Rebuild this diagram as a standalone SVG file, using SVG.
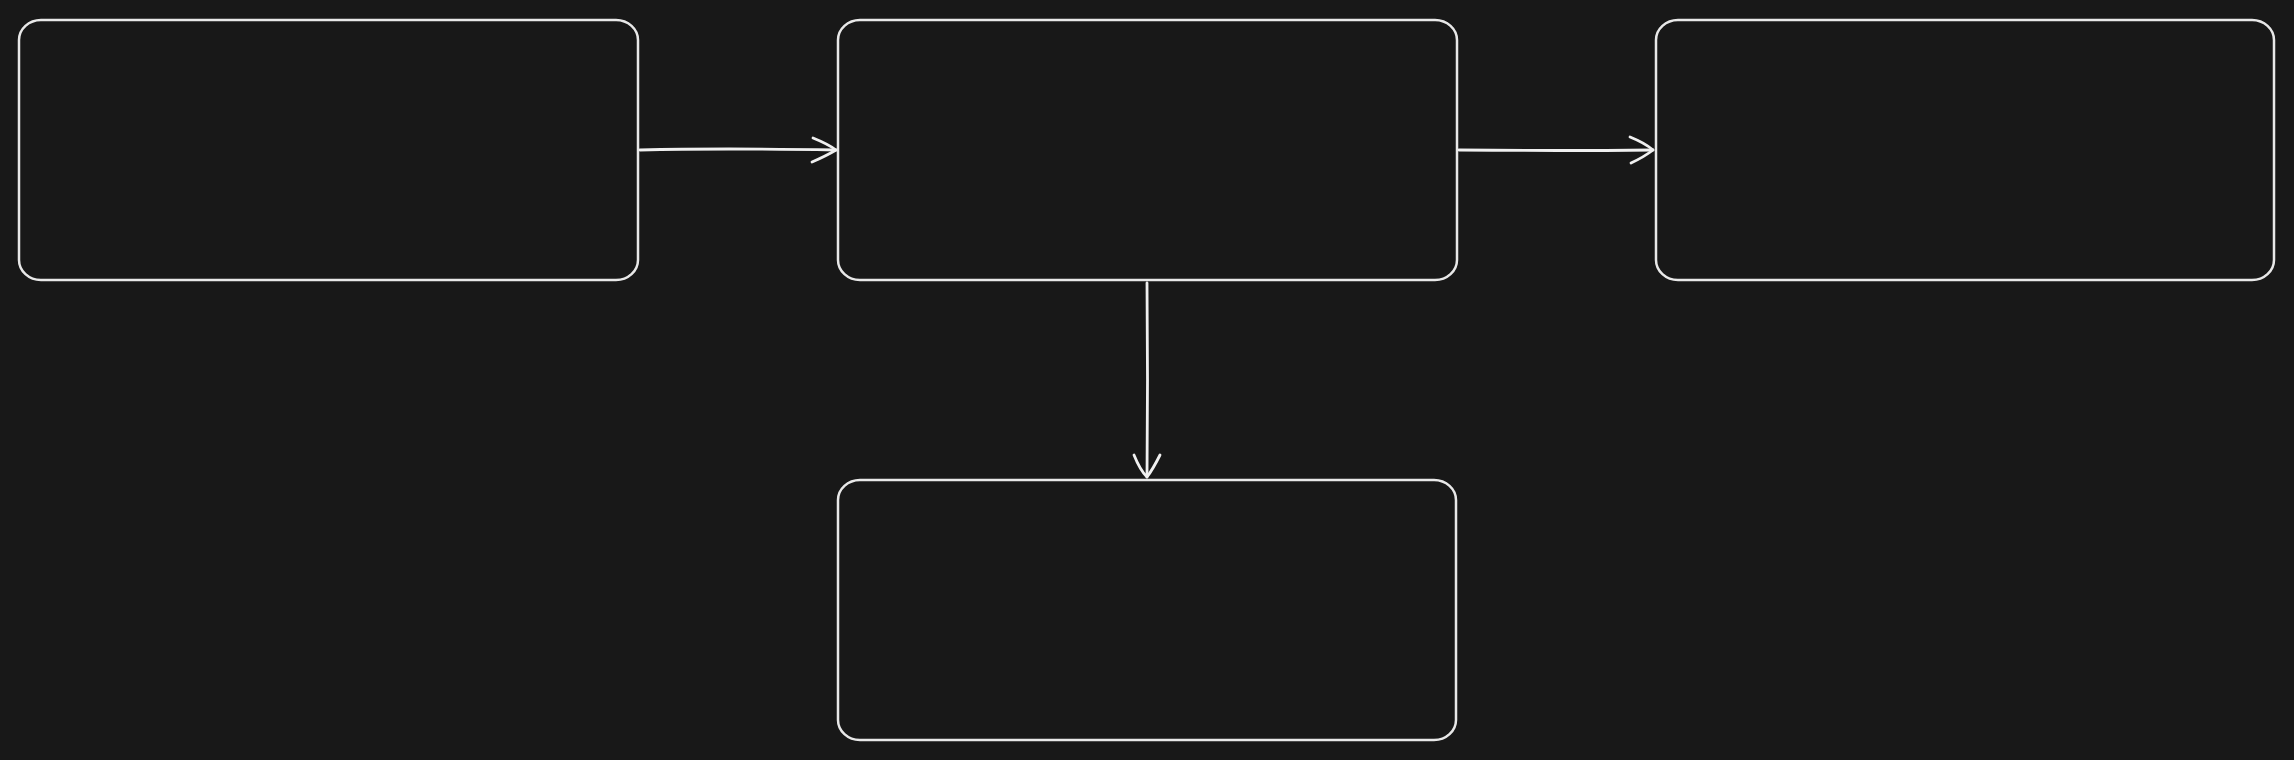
<svg xmlns="http://www.w3.org/2000/svg" width="2294" height="760" viewBox="0 0 2294 760">
<style>
.box{fill:none;stroke:#e8e8e8;stroke-width:2.5}
.conn{fill:none;stroke:#f0f0f0;stroke-width:2.8;stroke-linecap:round;stroke-linejoin:round}
</style>
<rect x="0" y="0" width="2294" height="760" fill="#181818"/>
<g id="node1"><rect class="box" x="19" y="20" width="619" height="260" rx="22" ry="20"/></g>
<g id="node2"><rect class="box" x="838" y="20" width="619" height="260" rx="22" ry="20"/></g>
<g id="node3"><rect class="box" x="1656" y="20" width="618" height="260" rx="22" ry="20"/></g>
<g id="node4"><rect class="box" x="838" y="480" width="618" height="260" rx="22" ry="20"/></g>
<g id="connectors">
<path class="conn" d="M640 150 Q720 148 836 150"/>
<path class="conn" d="M813 138 Q828 144 836 150 Q826 156 812 162"/>
<path class="conn" d="M1459 150 Q1560 151 1653 150"/>
<path class="conn" d="M1630 137 Q1645 143 1653 150 Q1644 157 1631 163"/>
<path class="conn" d="M1147 283 Q1148 380 1147 477"/>
<path class="conn" d="M1134 455 Q1140 470 1147 477 Q1153 469 1160 455"/>
</g>
</svg>
